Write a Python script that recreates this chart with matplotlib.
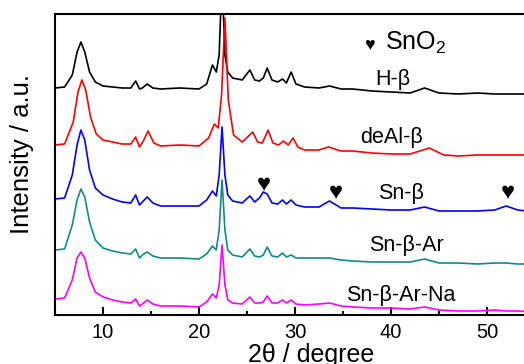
import numpy as np
import matplotlib
matplotlib.use('Agg')
import matplotlib.pyplot as plt
from matplotlib.ticker import MultipleLocator

plt.rcParams['font.family'] = ['Liberation Sans', 'DejaVu Sans']
plt.rcParams['mathtext.fontset'] = 'custom'
plt.rcParams['mathtext.rm'] = 'Liberation Sans'
plt.rcParams['mathtext.it'] = 'Liberation Sans'

# 2theta grid shared by H-beta, Sn-beta, Sn-beta-Ar, Sn-beta-Ar-Na
two_theta = [5, 6, 6.8, 7.3, 7.7, 8.1, 8.6, 9.2, 10, 11,
             12, 12.9, 13.4, 13.8, 14.1, 14.6, 15.2, 16, 18, 20,
             20.8, 21.4, 21.8, 22.1, 22.4, 22.7, 23.0, 23.5, 24.5, 25.3,
             25.8, 26.3, 26.7, 27.1, 27.6, 28.2, 28.7, 29.1, 29.6, 30.1,
             31, 32.5, 33.6, 34.8, 36, 38, 40, 42, 43.5, 45,
             47, 49, 50.8, 52, 53.2, 55]

h_beta = [227, 228, 240, 263, 273, 263, 243, 233, 229, 228,
          227, 227, 234, 226, 227, 231, 227, 226, 227, 226,
          231, 250, 243, 260, 340, 260, 243, 237, 235, 245,
          235, 234, 237, 247, 235, 233, 236, 232, 243, 231,
          228, 227, 229, 226, 226, 224, 223, 222, 227, 222,
          221, 222, 221, 221, 221, 221]

sn_beta = [116, 117, 140, 170, 185, 175, 145, 127, 120, 116,
           113, 112, 120, 110, 113, 118, 112, 109, 109, 109,
           115, 124, 119, 140, 188, 140, 120, 114, 112, 119,
           113, 117, 123, 121, 112, 111, 115, 111, 115, 110,
           108, 108, 114, 107, 107, 106, 105, 105, 108, 104,
           104, 104, 105, 109, 105, 103]

sn_beta_ar = [65, 66, 90, 115, 126, 118, 93, 75, 67, 64,
              62, 61, 66, 57, 60, 63, 59, 57, 57, 56,
              61, 69, 65, 85, 135, 85, 65, 60, 58, 66,
              59, 58, 60, 68, 59, 58, 62, 58, 60, 57,
              57, 57, 57, 55, 54, 53, 53, 53, 56, 52,
              52, 51, 52, 52, 51, 51]

sn_beta_ar_na = [16, 17, 35, 57, 63, 57, 37, 23, 18, 15,
                 13, 12, 16, 9, 11, 15, 11, 9, 9, 8,
                 13, 21, 17, 30, 70, 30, 15, 12, 11, 18,
                 12, 12, 13, 19, 12, 12, 15, 12, 15, 11,
                 10, 11, 12, 9, 8, 7, 7, 6, 8, 5,
                 4, 4, 5, 4, 4, 3]

# deAl-beta peaks are slightly shifted, own grid
two_theta_deal = [5, 6, 6.9, 7.4, 7.8, 8.2, 8.7, 9.3, 10, 11,
                  12, 12.9, 13.4, 13.8, 14.2, 14.7, 15.3, 16, 18, 20,
                  21.0, 21.6, 22.0, 22.35, 22.7, 23.05, 23.6, 24.5, 25.6, 26.1,
                  26.6, 27.2, 27.7, 28.3, 28.8, 29.3, 29.8, 30.3, 31, 32.5,
                  33.5, 34.8, 36, 38, 40, 42, 44, 45.5, 47, 49,
                  51, 53, 55]

deal_beta = [170, 171, 193, 223, 235, 225, 198, 181, 175, 173,
             171, 171, 178, 168, 174, 184, 172, 169, 170, 169,
             177, 191, 187, 220, 297, 215, 180, 173, 183, 173,
             172, 185, 172, 170, 174, 170, 177, 168, 165, 165,
             168, 164, 164, 162, 161, 161, 167, 160, 159, 160,
             160, 160, 160]

labels = ['H-β', 'deAl-β', 'Sn-β', 'Sn-β-Ar', 'Sn-β-Ar-Na']
label_x = [40.2, 40.1, 41.0, 41.6, 41.0]
label_y = [235, 178, 121, 70, 20]

# SnO2 reflections marked on Sn-beta
sno2_x = [26.7, 34.2, 52.2]
sno2_y = [130, 122, 122]

series = [(two_theta, h_beta, 'black'),
          (two_theta_deal, deal_beta, 'red'),
          (two_theta, sn_beta, 'blue'),
          (two_theta, sn_beta_ar, '#138a8a'),
          (two_theta, sn_beta_ar_na, '#ff00ff')]

fig = plt.figure(figsize=(5.24, 3.64), dpi=100)
ax = fig.add_axes([55/524, 49/364, 480/524, 301/364])

for x, y, c in series:
    ax.plot(x, y, color=c, lw=1.2)

for name, lx, ly in zip(labels, label_x, label_y):
    ax.text(lx, ly, name, ha='center', va='center', fontsize=15.5)

for hx, hy in zip(sno2_x, sno2_y):
    ax.text(hx, hy, '\u2665', ha='center', va='center', fontsize=17)

ax.text(37.8, 270, '\u2665', ha='center', va='center', fontsize=13)
ax.text(39.4, 272, 'SnO$_2$', ha='left', va='center', fontsize=18)

ax.set_xlim(5, 55)
ax.set_ylim(0, 301)
ax.set_yticks([])
ax.xaxis.set_major_locator(MultipleLocator(10))
ax.xaxis.set_minor_locator(MultipleLocator(5))
ax.tick_params(axis='x', which='major', direction='in', length=6, width=1.5,
               labelsize=14.5, pad=6, top=False)
ax.tick_params(axis='x', which='minor', direction='in', length=3, width=1.5, top=False)
for s in ax.spines.values():
    s.set_linewidth(1.5)

fig.text(311/524, 2/364, '2θ / degree', ha='center', va='baseline', fontsize=18)
fig.text(22/524, (364-154)/364, 'Intensity / a.u.', ha='center', va='center',
         rotation=90, fontsize=18.5)

fig.savefig('out.png', dpi=100)
